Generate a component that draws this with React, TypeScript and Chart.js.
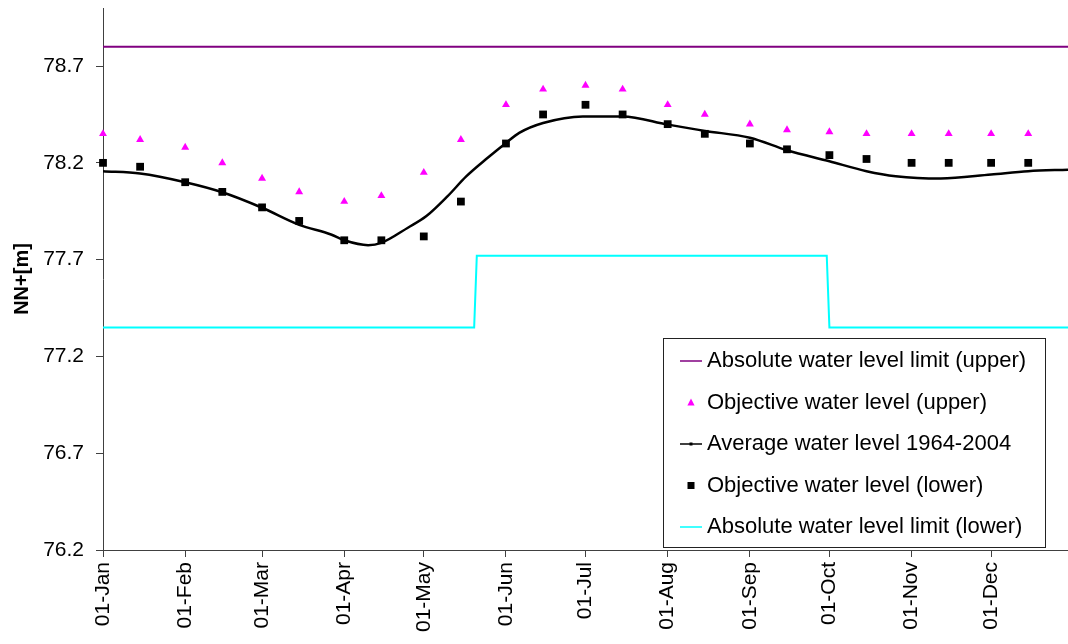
import React, { useEffect, useRef } from 'react';
import { Chart, registerables } from 'chart.js';

Chart.register(...registerables);

// ---- Data (day index from 01-Jan, leap year calendar) ----
const MONTH_TICK_DAYS = [0, 31, 60, 91, 121, 152, 182, 213, 244, 274, 305, 335];
const MONTH_TICK_LABELS = ['01-Jan', '01-Feb', '01-Mar', '01-Apr', '01-May', '01-Jun', '01-Jul', '01-Aug', '01-Sep', '01-Oct', '01-Nov', '01-Dec'];
const Y_TICKS = [76.2, 76.7, 77.2, 77.7, 78.2, 78.7];
const X_MIN = 0;
const X_MAX = 364;
const Y_MIN = 76.2;
const Y_MAX = 79.0;

const SERIES_LABELS = [
  'Absolute water level limit (upper)',
  'Objective water level (upper)',
  'Average water level 1964-2004',
  'Objective water level (lower)',
  'Absolute water level limit (lower)',
];

const UPPER_LIMIT_DAYS = [0, 364];
const UPPER_LIMIT_VALUES = [78.8, 78.8];

const OBJECTIVE_DAYS = [0, 14, 31, 45, 60, 74, 91, 105, 121, 135, 152, 166, 182, 196, 213, 227, 244, 258, 274, 288, 305, 319, 335, 349];
const OBJECTIVE_UPPER = [78.35, 78.32, 78.28, 78.20, 78.12, 78.05, 78.00, 78.03, 78.15, 78.32, 78.50, 78.58, 78.60, 78.58, 78.50, 78.45, 78.40, 78.37, 78.36, 78.35, 78.35, 78.35, 78.35, 78.35];
const OBJECTIVE_LOWER = [78.20, 78.18, 78.10, 78.05, 77.97, 77.90, 77.80, 77.80, 77.82, 78.00, 78.30, 78.45, 78.50, 78.45, 78.40, 78.35, 78.30, 78.27, 78.24, 78.22, 78.20, 78.20, 78.20, 78.20];

const AVERAGE_DAYS = [0, 14, 31, 45, 60, 74, 86, 91, 100, 105, 115, 122, 130, 137, 145, 152, 157, 166, 181, 196, 213, 227, 244, 258, 274, 288, 299, 316, 335, 349, 364];
const AVERAGE_VALUES = [78.157, 78.145, 78.10, 78.048, 77.968, 77.88, 77.83, 77.80, 77.775, 77.787, 77.865, 77.925, 78.028, 78.13, 78.225, 78.303, 78.355, 78.406, 78.44, 78.44, 78.398, 78.365, 78.33, 78.265, 78.208, 78.157, 78.131, 78.119, 78.14, 78.157, 78.165];

const LOWER_LIMIT_DAYS = [0, 140, 141, 273, 274, 364];
const LOWER_LIMIT_VALUES = [77.35, 77.35, 77.72, 77.72, 77.35, 77.35];

const COLORS = ['#800080', '#FF00FF', '#000000', '#000000', '#00FFFF'];

const FONT = '"Liberation Sans", Arial, Helvetica, sans-serif';

const zip = (xs: number[], ys: number[]) => xs.map((x, i) => ({ x, y: ys[i] }));

const boxLegend = {
  id: 'boxLegend',
  afterDraw(chart: any) {
    const { ctx, chartArea } = chart;
    const left = chartArea.left + 560;
    const right = chartArea.right - 23;
    const bottom = chartArea.bottom - 3;
    const top = bottom - 209;
    ctx.save();
    ctx.fillStyle = '#ffffff';
    ctx.fillRect(left, top, right - left, bottom - top);
    ctx.strokeStyle = '#222222';
    ctx.lineWidth = 1;
    ctx.strokeRect(Math.round(left) + 0.5, Math.round(top) + 0.5, Math.round(right - left), Math.round(bottom - top));
    ctx.font = `22px ${FONT}`;
    ctx.textBaseline = 'middle';
    ctx.textAlign = 'left';
    const symL = left + 17;
    const symR = left + 39;
    const symC = (symL + symR) / 2;
    chart.data.datasets.forEach((ds: any, i: number) => {
      const y = top + 23 + i * 41.5;
      ctx.fillStyle = ds.borderColor;
      ctx.strokeStyle = ds.borderColor;
      if (ds.showLine === false) {
        ctx.fillStyle = ds.backgroundColor;
        if (ds.pointStyle === 'triangle') {
          ctx.beginPath();
          ctx.moveTo(symC, y - 4);
          ctx.lineTo(symC + 3.6, y + 3);
          ctx.lineTo(symC - 3.6, y + 3);
          ctx.closePath();
          ctx.fill();
        } else {
          ctx.fillRect(symC - 3.5, y - 3.5, 7, 7);
        }
      } else {
        ctx.lineWidth = 1.5;
        ctx.beginPath();
        ctx.moveTo(symL, y);
        ctx.lineTo(symR, y);
        ctx.stroke();
        if (i === 2) ctx.fillRect(symC - 1.5, y - 1.5, 3, 3);
      }
      ctx.fillStyle = '#000000';
      ctx.fillText(ds.label, left + 44, y);
    });
    ctx.restore();
  },
};

export default function App() {
  const canvasRef = useRef<HTMLCanvasElement | null>(null);

  useEffect(() => {
    const canvas = canvasRef.current;
    if (!canvas) return;
    const chart = new Chart(canvas, {
      type: 'line',
      data: {
        datasets: [
          {
            label: SERIES_LABELS[0],
            data: zip(UPPER_LIMIT_DAYS, UPPER_LIMIT_VALUES),
            borderColor: COLORS[0],
            backgroundColor: COLORS[0],
            borderWidth: 2,
            pointRadius: 0,
            pointHoverRadius: 0,
          },
          {
            label: SERIES_LABELS[1],
            data: zip(OBJECTIVE_DAYS, OBJECTIVE_UPPER),
            showLine: false,
            pointStyle: 'triangle',
            pointRadius: 4.6,
            borderWidth: 0,
            borderColor: COLORS[1],
            backgroundColor: COLORS[1],
            clip: false,
          },
          {
            label: SERIES_LABELS[2],
            data: zip(AVERAGE_DAYS, AVERAGE_VALUES),
            borderColor: COLORS[2],
            backgroundColor: COLORS[2],
            borderWidth: 2.5,
            pointRadius: 0,
            pointHoverRadius: 0,
            cubicInterpolationMode: 'monotone',
          },
          {
            label: SERIES_LABELS[3],
            data: zip(OBJECTIVE_DAYS, OBJECTIVE_LOWER),
            showLine: false,
            pointStyle: 'rect',
            pointRadius: 5.5,
            borderWidth: 0,
            borderColor: COLORS[3],
            backgroundColor: COLORS[3],
            clip: false,
          },
          {
            label: SERIES_LABELS[4],
            data: zip(LOWER_LIMIT_DAYS, LOWER_LIMIT_VALUES),
            borderColor: COLORS[4],
            backgroundColor: COLORS[4],
            borderWidth: 2,
            pointRadius: 0,
            pointHoverRadius: 0,
          },
        ] as any,
      },
      options: {
        responsive: false,
        animation: false,
        devicePixelRatio: 1,
        events: [],
        layout: { autoPadding: false, padding: { top: 8, left: 0, right: 0, bottom: 0 } },
        plugins: {
          legend: { display: false },
          tooltip: { enabled: false },
        },
        scales: {
          x: {
            type: 'linear',
            min: X_MIN,
            max: X_MAX,
            afterBuildTicks: (scale: any) => {
              scale.ticks = MONTH_TICK_DAYS.map((v) => ({ value: v }));
            },
            afterFit: (scale: any) => {
              scale.height = 94;
              scale.paddingLeft = 0;
              scale.paddingRight = 0;
            },
            ticks: {
              autoSkip: false,
              maxRotation: 90,
              minRotation: 90,
              padding: 5,
              color: '#000000',
              font: { family: FONT, size: 21 },
              callback: (_v: any, i: number) => MONTH_TICK_LABELS[i],
            },
            grid: { drawOnChartArea: false, drawTicks: true, tickLength: 7, color: '#404040' },
            border: { display: true, color: '#404040', width: 1 },
          },
          y: {
            type: 'linear',
            min: Y_MIN,
            max: Y_MAX,
            afterBuildTicks: (scale: any) => {
              scale.ticks = Y_TICKS.map((v) => ({ value: v }));
            },
            afterFit: (scale: any) => {
              scale.width = 103;
              scale.paddingTop = 0;
              scale.paddingBottom = 0;
            },
            ticks: {
              padding: 12,
              color: '#000000',
              font: { family: FONT, size: 21 },
              callback: (v: any) => Number(v).toFixed(1),
            },
            title: {
              display: true,
              text: 'NN+[m]',
              color: '#000000',
              font: { family: FONT, size: 20, weight: 'bold' },
              padding: { top: 10, bottom: 0 },
            },
            grid: { drawOnChartArea: false, drawTicks: true, tickLength: 7, color: '#404040' },
            border: { display: true, color: '#404040', width: 1 },
          },
        },
      } as any,
      plugins: [boxLegend],
    });
    return () => chart.destroy();
  }, []);

  return (
    <div style={{ position: 'absolute', left: 0, top: 0, width: 1068, height: 644, background: '#ffffff' }}>
      <canvas ref={canvasRef} width={1068} height={644} style={{ display: 'block' }} />
    </div>
  );
}
